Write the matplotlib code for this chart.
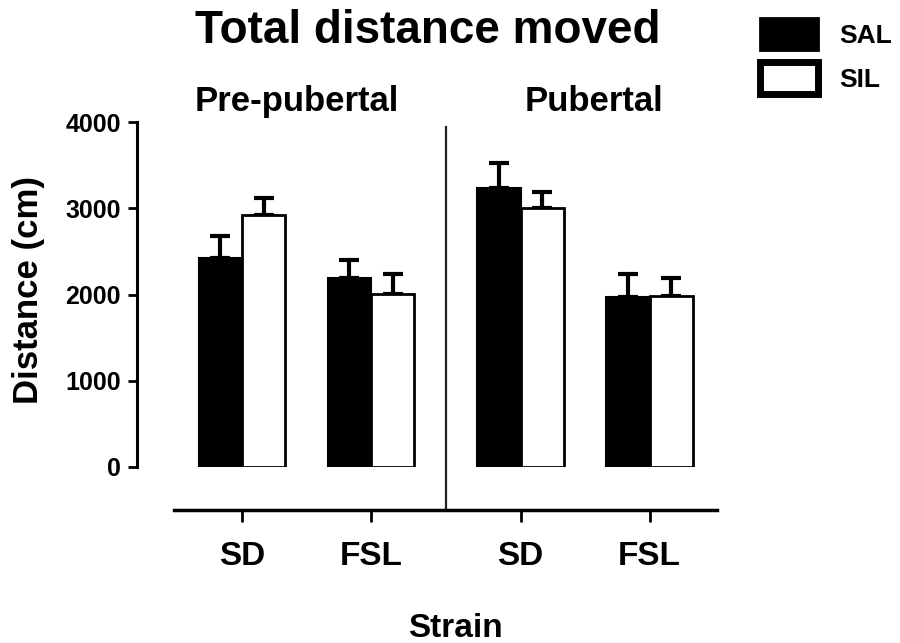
import numpy as np
import matplotlib
matplotlib.use('Agg')
import matplotlib.pyplot as plt
from matplotlib.patches import Patch

plt.rcParams['font.family'] = ['Liberation Sans', 'DejaVu Sans']
plt.rcParams['font.weight'] = 'bold'

# donnees
souches = ['SD', 'FSL', 'SD', 'FSL']
periode = [0, 0, 1, 1]          # 0 = pre-pubertal, 1 = pubertal
titres_periode = ['Pre-pubertal', 'Pubertal']
SAL = [2420, 2190, 3230, 1970]
SAL_err = [260, 210, 295, 270]
SIL = [2920, 2010, 3005, 1985]
SIL_err = [195, 230, 185, 205]

fig = plt.figure(figsize=(9, 6.43), dpi=100)
ax = fig.add_axes([137/900, 1-467/643, (717-137)/900, (467-122)/643])

ecart = 0.16
pos = np.arange(len(souches)) + ecart*np.array(periode)
w = 0.335

ax.bar(pos - w/2, SAL, w, color='black', edgecolor='black', linewidth=1.5, zorder=2)
ax.bar(pos + w/2, SIL, w, color='white', edgecolor='black', linewidth=2, zorder=2)
ax.errorbar(pos - w/2, SAL, yerr=[np.zeros(4), SAL_err], fmt='none', ecolor='black',
            elinewidth=3, capsize=7, capthick=3, zorder=1)
ax.errorbar(pos + w/2, SIL, yerr=[np.zeros(4), SIL_err], fmt='none', ecolor='black',
            elinewidth=3, capsize=7, capthick=3, zorder=1)

ax.set_xlim(-0.814, 3.682)
ax.set_ylim(0, 4000)
ax.set_yticks([0, 1000, 2000, 3000, 4000])
ax.set_xticks(pos, souches)
ax.tick_params(axis='y', labelsize=18, width=2, length=6.5, pad=5)
ax.tick_params(axis='x', labelsize=24, width=2, length=8.5, pad=14)

for s in ['top', 'right']:
    ax.spines[s].set_visible(False)
ax.spines['left'].set_linewidth(2.2)
ax.spines['left'].set_bounds(0, 4000)
ax.spines['bottom'].set_linewidth(2.5)
ax.spines['bottom'].set_position(('outward', 31))
ax.spines['bottom'].set_bounds(-0.527, 3.682)

# separation entre les deux periodes
milieu = (pos[1] + pos[2]) / 2
ax.plot([milieu, milieu], [-0.125, 0.985], color='#222222', linewidth=1.6,
        transform=ax.get_xaxis_transform(), clip_on=False)

fig.text(428/900, 1-43/643, 'Total distance moved', ha='center', va='baseline',
         fontsize=33, fontweight='bold')
fig.text(297/900, 1-111/643, titres_periode[0], ha='center', va='baseline',
         fontsize=25, fontweight='bold')
fig.text(594/900, 1-111/643, titres_periode[1], ha='center', va='baseline',
         fontsize=25, fontweight='bold')
fig.text(455/900, 1-637/643, 'Strain', ha='center', va='baseline',
         fontsize=24, fontweight='bold')
fig.text(29/900, 1-290/643, 'Distance (cm)', ha='center', va='center', rotation=90,
         fontsize=25, fontweight='bold')

poignees = [Patch(facecolor='black', edgecolor='black', linewidth=2),
            Patch(facecolor='white', edgecolor='black', linewidth=5)]
fig.legend(poignees, ['SAL', 'SIL'], loc='upper left', bbox_to_anchor=(760/900, 1-18/643),
           frameon=False, fontsize=19, handlelength=2.2, handleheight=1.5,
           labelspacing=0.45, handletextpad=0.8, borderpad=0, borderaxespad=0)

plt.savefig('out.png', dpi=100)
